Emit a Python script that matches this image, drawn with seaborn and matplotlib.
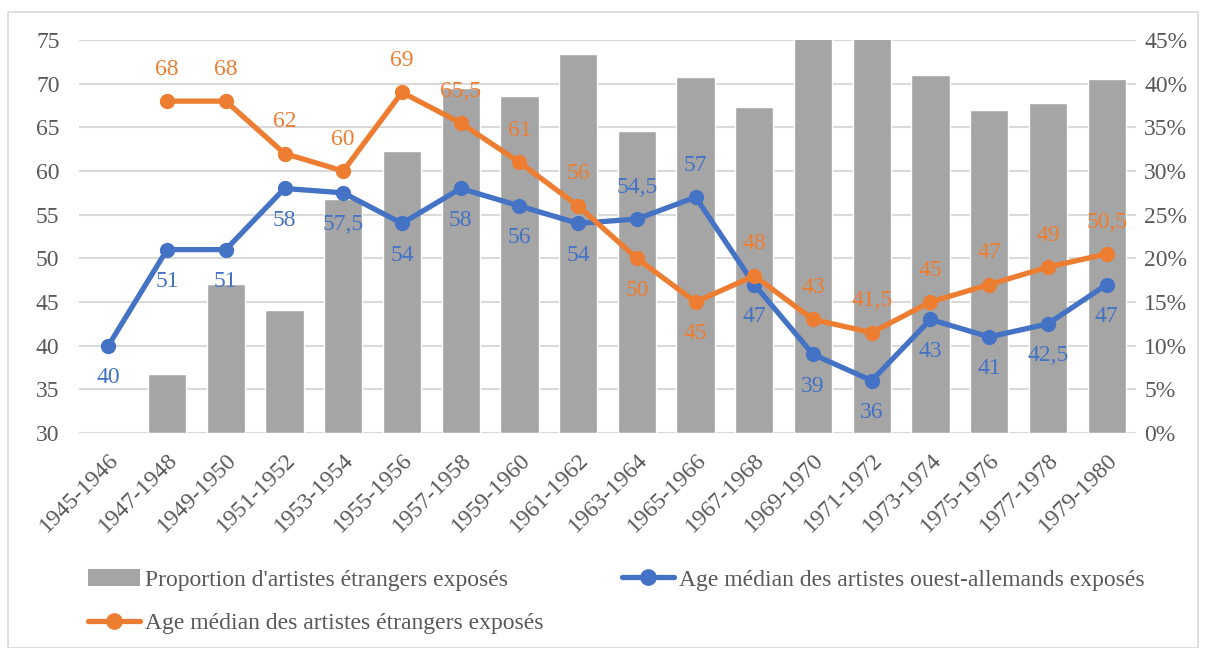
import numpy as np
import pandas as pd
import matplotlib
matplotlib.use("Agg")
import matplotlib.pyplot as plt
from matplotlib.lines import Line2D
from matplotlib.patches import Patch, Rectangle
import seaborn as sns

periods = ["1945-1946", "1947-1948", "1949-1950", "1951-1952", "1953-1954", "1955-1956",
           "1957-1958", "1959-1960", "1961-1962", "1963-1964", "1965-1966", "1967-1968",
           "1969-1970", "1971-1972", "1973-1974", "1975-1976", "1977-1978", "1979-1980"]
prop_foreign = [0.0, 0.068, 0.171, 0.141, 0.268, 0.323, 0.395, 0.386, 0.434, 0.346,
                0.408, 0.373, 0.48, 0.47, 0.410, 0.370, 0.378, 0.405]
age_west = [40, 51, 51, 58, 57.5, 54, 58, 56, 54, 54.5, 57, 47, 39, 36, 43, 41, 42.5, 47]
age_foreign = [np.nan, 68, 68, 62, 60, 69, 65.5, 61, 56, 50, 45, 48, 43, 41.5, 45, 47, 49, 50.5]
blue_pos = ["below"] * 9 + ["above", "above"] + ["below"] * 7
orange_pos = ["above"] * 9 + ["below", "below"] + ["above"] * 7

label_bar = "Proportion d'artistes étrangers exposés"
label_west = "Age médian des artistes ouest-allemands exposés"
label_for = "Age médian des artistes étrangers exposés"

BLUE = "#4472C4"
ORANGE = "#ED7D31"
GRAY = "#A5A5A5"
TXT = "#595959"
FS = 17

sns.set_theme(style="white")
plt.rcParams["font.family"] = ["Liberation Serif", "DejaVu Serif"]

df = pd.DataFrame({"idx": np.arange(len(periods)), "period": periods,
                   "prop": prop_foreign, "west": age_west, "foreign": age_foreign})

fig = plt.figure(figsize=(12.09, 6.48), dpi=100)
fig.patches.append(Rectangle((8 / 1209, 0.0), 1190 / 1209, 1 - 12 / 648,
                             transform=fig.transFigure, fill=False,
                             edgecolor="#D9D9D9", linewidth=1.2))

ax_bar = fig.add_axes([79 / 1209, 1 - 433 / 648, 1057 / 1209, 393 / 648])
sns.barplot(data=df, x="idx", y="prop", color=GRAY, saturation=1, width=0.65,
            ax=ax_bar, zorder=2)
ax_bar.set_ylim(0, 0.45)
ax_bar.set_yticks(np.arange(0, 0.451, 0.05))
ax_bar.set_yticklabels([f"{int(round(v*100))}%" for v in np.arange(0, 0.451, 0.05)])
ax_bar.grid(axis="y", color="#D9D9D9", linewidth=1.5, zorder=0)
ax_bar.set_axisbelow(True)

ax_line = ax_bar.twinx()
sns.lineplot(data=df, x="idx", y="west", color=BLUE, marker="o", markersize=11,
             markeredgewidth=0, linewidth=3.8, ax=ax_line)
sns.lineplot(data=df.dropna(subset=["foreign"]), x="idx", y="foreign", color=ORANGE,
             marker="o", markersize=11, markeredgewidth=0, linewidth=3.8, ax=ax_line)
ax_line.set_ylim(30, 75)
ax_line.set_yticks(np.arange(30, 76, 5))
ax_line.yaxis.tick_left()
ax_bar.yaxis.tick_right()

def fmt(v):
    s = f"{v:g}"
    return s.replace(".", ",")

for i, (v, p) in enumerate(zip(age_west, blue_pos)):
    off = -23 if p == "below" else 23
    ax_line.annotate(fmt(v), (i, v), xytext=(0, off), textcoords="offset points",
                     ha="center", va="center", color=BLUE, fontsize=FS)
for i, (v, p) in enumerate(zip(age_foreign, orange_pos)):
    if np.isnan(v):
        continue
    off = -23 if p == "below" else 23
    ax_line.annotate(fmt(v), (i, v), xytext=(0, off), textcoords="offset points",
                     ha="center", va="center", color=ORANGE, fontsize=FS)

for a in (ax_bar, ax_line):
    for s in a.spines.values():
        s.set_visible(False)
    a.set_xlabel("")
    a.set_ylabel("")
    a.tick_params(axis="y", length=0, labelsize=FS, labelcolor=TXT)
ax_line.tick_params(axis="y", pad=14)
ax_bar.tick_params(axis="y", pad=6)

ax_bar.set_xlim(-0.5, len(periods) - 0.5)
ax_bar.set_xticks(np.arange(len(periods)))
ax_bar.set_xticklabels(periods, rotation=45, ha="right", rotation_mode="anchor",
                       fontsize=FS, color=TXT)
ax_bar.tick_params(axis="x", length=0, pad=12)
ax_line.tick_params(axis="x", which="both", labelbottom=False, labeltop=False, length=0)

handles = [Patch(facecolor=GRAY, edgecolor="none"),
           Line2D([], [], color=ORANGE, linewidth=3.8, marker="o", markersize=11),
           Line2D([], [], color=BLUE, linewidth=3.8, marker="o", markersize=11)]
labels = [label_bar, label_for, label_west]
fig.legend(handles, labels, loc="upper left", bbox_to_anchor=(88 / 1209, 1 - 569 / 648),
           ncol=2, frameon=False, fontsize=FS, handlelength=2.2, handleheight=0.7,
           handletextpad=0.2, columnspacing=3.35, labelspacing=0.95, borderpad=0,
           borderaxespad=0, labelcolor=TXT)

fig.savefig("out.png", dpi=100)
